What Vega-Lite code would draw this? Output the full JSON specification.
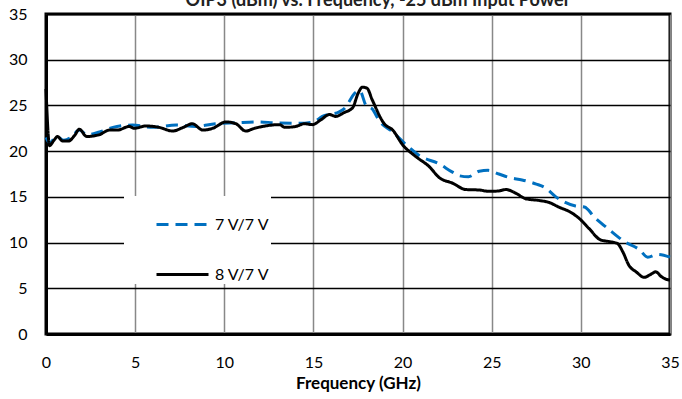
{
  "$schema": "https://vega.github.io/schema/vega-lite/v6.json",
  "autosize": {"type": "none"},
  "width": 624,
  "height": 320,
  "padding": {"left": 46, "top": 14, "right": 12, "bottom": 65},
  "background": "white",
  "title": {"text": "OIP3 (dBm) vs. Frequency, -25 dBm Input Power", "font": "Lato", "fontSize": 18, "fontWeight": "bold", "color": "#222222", "offset": -4, "dx": 20},
  "config": {
    "view": {"stroke": "#000000", "strokeWidth": 3},
    "axis": {"labelFont": "Lato", "labelFontSize": 16, "labelColor": "#000000", "titleFont": "Lato", "domainColor": "#000000", "domainWidth": 3, "ticks": false}
  },
  "data": {"values": [
    {"f": 0, "v": 21.5, "s": "7 V/7 V"}, {"f": 0.2, "v": 20.9, "s": "7 V/7 V"}, {"f": 0.6, "v": 21.6, "s": "7 V/7 V"}, {"f": 1.0, "v": 21.2, "s": "7 V/7 V"}, {"f": 1.4, "v": 21.5, "s": "7 V/7 V"}, {"f": 1.87, "v": 22.3, "s": "7 V/7 V"}, {"f": 2.3, "v": 21.8, "s": "7 V/7 V"}, {"f": 3.0, "v": 22.1, "s": "7 V/7 V"}, {"f": 3.75, "v": 22.6, "s": "7 V/7 V"}, {"f": 4.85, "v": 22.85, "s": "7 V/7 V"}, {"f": 6.0, "v": 22.6, "s": "7 V/7 V"}, {"f": 7.3, "v": 22.85, "s": "7 V/7 V"}, {"f": 8.4, "v": 22.7, "s": "7 V/7 V"}, {"f": 9.5, "v": 23.0, "s": "7 V/7 V"}, {"f": 10.65, "v": 23.1, "s": "7 V/7 V"}, {"f": 11.8, "v": 23.2, "s": "7 V/7 V"}, {"f": 12.9, "v": 23.1, "s": "7 V/7 V"}, {"f": 14.2, "v": 23.05, "s": "7 V/7 V"}, {"f": 15.0, "v": 23.2, "s": "7 V/7 V"}, {"f": 15.5, "v": 23.8, "s": "7 V/7 V"}, {"f": 16.45, "v": 24.3, "s": "7 V/7 V"}, {"f": 16.8, "v": 24.8, "s": "7 V/7 V"}, {"f": 17.0, "v": 25.4, "s": "7 V/7 V"}, {"f": 17.3, "v": 26.3, "s": "7 V/7 V"}, {"f": 17.6, "v": 26.6, "s": "7 V/7 V"}, {"f": 17.95, "v": 25.0, "s": "7 V/7 V"}, {"f": 18.3, "v": 24.6, "s": "7 V/7 V"}, {"f": 18.7, "v": 23.3, "s": "7 V/7 V"}, {"f": 19.45, "v": 22.1, "s": "7 V/7 V"}, {"f": 20.2, "v": 20.7, "s": "7 V/7 V"}, {"f": 20.95, "v": 19.5, "s": "7 V/7 V"}, {"f": 22.06, "v": 18.6, "s": "7 V/7 V"}, {"f": 22.8, "v": 17.7, "s": "7 V/7 V"}, {"f": 23.2, "v": 17.3, "s": "7 V/7 V"}, {"f": 23.7, "v": 17.2, "s": "7 V/7 V"}, {"f": 24.3, "v": 17.8, "s": "7 V/7 V"}, {"f": 24.8, "v": 17.9, "s": "7 V/7 V"}, {"f": 25.4, "v": 17.5, "s": "7 V/7 V"}, {"f": 26.0, "v": 17.1, "s": "7 V/7 V"}, {"f": 26.7, "v": 16.85, "s": "7 V/7 V"}, {"f": 27.5, "v": 16.4, "s": "7 V/7 V"}, {"f": 28.0, "v": 16.0, "s": "7 V/7 V"}, {"f": 28.6, "v": 15.0, "s": "7 V/7 V"}, {"f": 29.7, "v": 14.0, "s": "7 V/7 V"}, {"f": 30.2, "v": 13.9, "s": "7 V/7 V"}, {"f": 30.75, "v": 12.8, "s": "7 V/7 V"}, {"f": 31.6, "v": 11.4, "s": "7 V/7 V"}, {"f": 32.45, "v": 10.1, "s": "7 V/7 V"}, {"f": 33.3, "v": 9.2, "s": "7 V/7 V"}, {"f": 33.75, "v": 8.4, "s": "7 V/7 V"}, {"f": 34.3, "v": 8.7, "s": "7 V/7 V"}, {"f": 35, "v": 8.4, "s": "7 V/7 V"},
    {"f": 0, "v": 26.8, "s": "8 V/7 V"}, {"f": 0.2, "v": 20.6, "s": "8 V/7 V"}, {"f": 0.45, "v": 21.2, "s": "8 V/7 V"}, {"f": 0.65, "v": 21.6, "s": "8 V/7 V"}, {"f": 0.93, "v": 21.1, "s": "8 V/7 V"}, {"f": 1.25, "v": 21.1, "s": "8 V/7 V"}, {"f": 1.6, "v": 21.7, "s": "8 V/7 V"}, {"f": 1.87, "v": 22.4, "s": "8 V/7 V"}, {"f": 2.28, "v": 21.6, "s": "8 V/7 V"}, {"f": 2.99, "v": 21.8, "s": "8 V/7 V"}, {"f": 3.55, "v": 22.3, "s": "8 V/7 V"}, {"f": 4.0, "v": 22.3, "s": "8 V/7 V"}, {"f": 4.67, "v": 22.7, "s": "8 V/7 V"}, {"f": 4.95, "v": 22.5, "s": "8 V/7 V"}, {"f": 5.6, "v": 22.75, "s": "8 V/7 V"}, {"f": 6.35, "v": 22.6, "s": "8 V/7 V"}, {"f": 7.1, "v": 22.2, "s": "8 V/7 V"}, {"f": 7.7, "v": 22.6, "s": "8 V/7 V"}, {"f": 8.2, "v": 23.0, "s": "8 V/7 V"}, {"f": 8.8, "v": 22.3, "s": "8 V/7 V"}, {"f": 9.35, "v": 22.5, "s": "8 V/7 V"}, {"f": 10.1, "v": 23.2, "s": "8 V/7 V"}, {"f": 10.65, "v": 23.0, "s": "8 V/7 V"}, {"f": 11.2, "v": 22.2, "s": "8 V/7 V"}, {"f": 11.7, "v": 22.5, "s": "8 V/7 V"}, {"f": 12.15, "v": 22.7, "s": "8 V/7 V"}, {"f": 13.1, "v": 22.9, "s": "8 V/7 V"}, {"f": 13.4, "v": 22.6, "s": "8 V/7 V"}, {"f": 14.0, "v": 22.7, "s": "8 V/7 V"}, {"f": 14.5, "v": 23.0, "s": "8 V/7 V"}, {"f": 14.95, "v": 22.9, "s": "8 V/7 V"}, {"f": 15.4, "v": 23.4, "s": "8 V/7 V"}, {"f": 15.9, "v": 24.0, "s": "8 V/7 V"}, {"f": 16.26, "v": 23.8, "s": "8 V/7 V"}, {"f": 16.7, "v": 24.2, "s": "8 V/7 V"}, {"f": 17.2, "v": 24.75, "s": "8 V/7 V"}, {"f": 17.5, "v": 26.3, "s": "8 V/7 V"}, {"f": 17.75, "v": 27.0, "s": "8 V/7 V"}, {"f": 18.0, "v": 26.9, "s": "8 V/7 V"}, {"f": 18.3, "v": 25.6, "s": "8 V/7 V"}, {"f": 18.97, "v": 23.0, "s": "8 V/7 V"}, {"f": 19.45, "v": 22.3, "s": "8 V/7 V"}, {"f": 20.0, "v": 20.7, "s": "8 V/7 V"}, {"f": 20.75, "v": 19.4, "s": "8 V/7 V"}, {"f": 21.5, "v": 18.3, "s": "8 V/7 V"}, {"f": 22.06, "v": 17.1, "s": "8 V/7 V"}, {"f": 22.8, "v": 16.5, "s": "8 V/7 V"}, {"f": 23.55, "v": 15.8, "s": "8 V/7 V"}, {"f": 24.3, "v": 15.75, "s": "8 V/7 V"}, {"f": 24.85, "v": 15.6, "s": "8 V/7 V"}, {"f": 25.4, "v": 15.65, "s": "8 V/7 V"}, {"f": 25.8, "v": 15.8, "s": "8 V/7 V"}, {"f": 26.35, "v": 15.4, "s": "8 V/7 V"}, {"f": 26.9, "v": 14.8, "s": "8 V/7 V"}, {"f": 27.67, "v": 14.6, "s": "8 V/7 V"}, {"f": 28.2, "v": 14.4, "s": "8 V/7 V"}, {"f": 28.8, "v": 13.85, "s": "8 V/7 V"}, {"f": 29.35, "v": 13.4, "s": "8 V/7 V"}, {"f": 29.9, "v": 12.65, "s": "8 V/7 V"}, {"f": 30.45, "v": 11.55, "s": "8 V/7 V"}, {"f": 31.1, "v": 10.3, "s": "8 V/7 V"}, {"f": 31.6, "v": 10.1, "s": "8 V/7 V"}, {"f": 32.05, "v": 9.9, "s": "8 V/7 V"}, {"f": 32.35, "v": 9.0, "s": "8 V/7 V"}, {"f": 32.7, "v": 7.5, "s": "8 V/7 V"}, {"f": 33.1, "v": 6.8, "s": "8 V/7 V"}, {"f": 33.55, "v": 6.2, "s": "8 V/7 V"}, {"f": 33.9, "v": 6.5, "s": "8 V/7 V"}, {"f": 34.2, "v": 6.8, "s": "8 V/7 V"}, {"f": 34.5, "v": 6.3, "s": "8 V/7 V"}, {"f": 34.77, "v": 6.0, "s": "8 V/7 V"}, {"f": 35, "v": 5.9, "s": "8 V/7 V"}
  ]},
  "mark": {"type": "line", "strokeWidth": 3, "interpolate": "monotone"},
  "encoding": {
    "x": {"field": "f", "type": "quantitative", "scale": {"domain": [0, 35], "nice": false}, "axis": {"values": [0, 5, 10, 15, 20, 25, 30, 35], "title": "Frequency (GHz)", "titleFontSize": 17, "titleFontWeight": "bold", "titleColor": "#000000", "labelPadding": 20, "titlePadding": 5, "gridColor": "#888888", "gridWidth": 1.5, "labelFlush": false}},
    "y": {"field": "v", "type": "quantitative", "scale": {"domain": [0, 35], "nice": false}, "axis": {"values": [0, 5, 10, 15, 20, 25, 30, 35], "title": null, "labelPadding": 19, "gridColor": "#000000", "gridWidth": 1.5}},
    "color": {"field": "s", "type": "nominal", "scale": {"domain": ["7 V/7 V", "8 V/7 V"], "range": ["#0070C0", "#000000"]}, "legend": {"title": null, "orient": "none", "legendX": 78, "legendY": 182, "fillColor": "white", "padding": 1, "symbolOffset": 30, "symbolType": "stroke", "symbolSize": 2704, "symbolStrokeWidth": 3, "rowPadding": 14, "labelOffset": 5, "labelFont": "Lato", "labelFontSize": 16, "labelColor": "#000000"}},
    "strokeDash": {"field": "s", "type": "nominal", "scale": {"domain": ["7 V/7 V", "8 V/7 V"], "range": [[12, 7], [1, 0]]}, "legend": null}
  }
}
